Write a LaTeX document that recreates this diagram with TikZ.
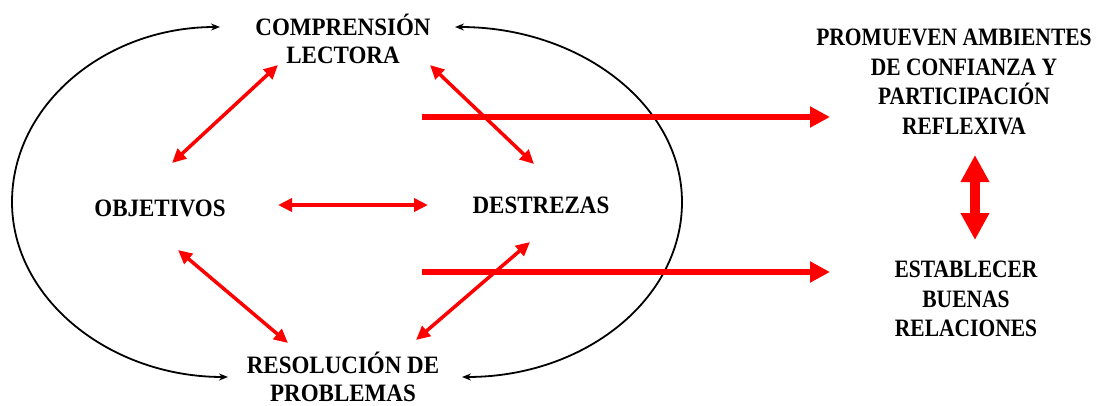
\documentclass[tikz,border=0pt]{standalone}
\usepackage{fontspec}
\setmainfont{Liberation Serif}[FakeStretch=0.92]
\newfontfamily\narrowserif{Liberation Serif}[FakeStretch=0.86]
\usetikzlibrary{arrows.meta}
\begin{document}
\begin{tikzpicture}[x=1pt,y=-1pt,
 lbl/.style={font=\bfseries\fontsize{25}{28}\selectfont, align=center, inner sep=0pt},
 rlbl/.style={font=\narrowserif\bfseries\fontsize{25}{29.5}\selectfont, align=center, inner sep=0pt},
 thinred/.style={draw=red, line width=3.5pt, {Triangle[length=14pt,width=13pt]}-{Triangle[length=14pt,width=13pt]}},
 bigred/.style={draw=red, line width=6pt, -{Triangle[length=20pt,width=20pt]}},
 vertred/.style={draw=red, line width=10pt, {Triangle[length=27pt,width=27pt]}-{Triangle[length=27pt,width=27pt]}},
 curv/.style={draw=black, line width=1.8pt, {Stealth[length=9pt,width=7pt]}-{Stealth[length=9pt,width=7pt]}}]
\useasboundingbox (0,0) rectangle (1096,405);
\fill[white] (0,0) rectangle (1096,405);
% nodes
\node[lbl] (comp) at (343,39) {COMPRENSIÓN\\LECTORA};
\node[lbl] (obj) at (160,208) {OBJETIVOS};
\node[lbl] (des) at (541,205) {DESTREZAS};
\node[lbl] (res) at (343,377) {RESOLUCIÓN DE\\PROBLEMAS};
\node[rlbl] (prom) at (964,82) {PROMUEVEN AMBIENTES\hspace*{20pt}\\DE CONFIANZA Y\\PARTICIPACIÓN\\REFLEXIVA};
\node[rlbl] (est) at (966,299) {ESTABLECER\\BUENAS\\RELACIONES};
% connector ends
\coordinate (ctl) at (220,27);
\coordinate (cbl) at (228,377);
\coordinate (ctr) at (455,27);
\coordinate (cbr) at (462,377);
\coordinate (co1) at (278,65);
\coordinate (oc1) at (172,163);
\coordinate (od1) at (278,205);
\coordinate (do1) at (428,205);
\coordinate (cd1) at (430,65);
\coordinate (dc1) at (534,164);
\coordinate (or1) at (178,250);
\coordinate (ro1) at (288,343);
\coordinate (dr1) at (530,242);
\coordinate (rd1) at (416,340);
\coordinate (bs1) at (422,117);
\coordinate (bp1) at (830,117);
\coordinate (bs2) at (422,272);
\coordinate (be2) at (830,272);
\coordinate (pv) at (975,155);
\coordinate (ev) at (975,240);
% black curved arrows
\draw[curv] (ctl) .. controls (105,27) and (12,105) .. (12,202) .. controls (12,299) and (110,377) .. (cbl);
\draw[curv] (ctr) .. controls (580,27) and (682,105) .. (682,202) .. controls (682,299) and (585,377) .. (cbr);
% red thin double arrows
\draw[thinred] (co1) -- (oc1);
\draw[thinred] (od1) -- (do1);
\draw[thinred] (cd1) -- (dc1);
\draw[thinred] (or1) -- (ro1);
\draw[thinred] (dr1) -- (rd1);
% big arrows
\draw[bigred] (bs1) -- (bp1);
\draw[bigred] (bs2) -- (be2);
\draw[vertred] (pv) -- (ev);
\end{tikzpicture}
\end{document}
